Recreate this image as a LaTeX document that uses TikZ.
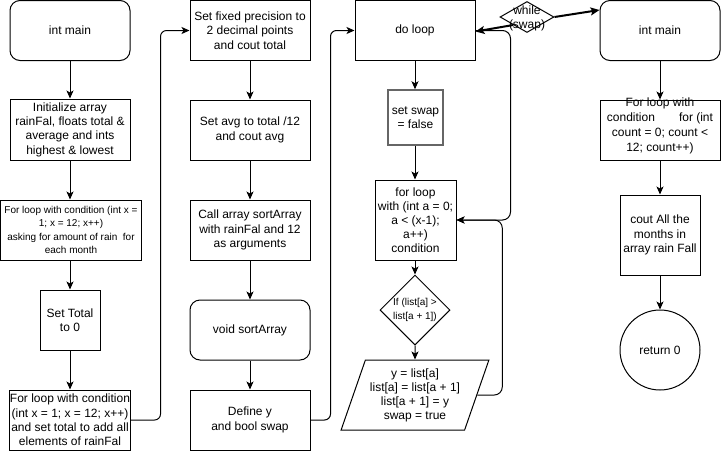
\documentclass[tikz,border=0pt]{standalone}
\usepackage{fontspec}
\setmainfont{Liberation Sans}
\usetikzlibrary{shapes.geometric,arrows.meta,calc}
\tikzset{
  every node/.style={font=\fontsize{12}{14.3}\selectfont, text=black},
  smalltxt/.style={font=\fontsize{10}{13.6}\selectfont},
  box/.style={draw, line width=1pt, rectangle, minimum width=120pt, minimum height=60pt, inner sep=0pt, align=center},
  rbox/.style={box, rounded corners=10pt},
  arr/.style={line width=1pt, -{Stealth[length=8pt,width=7pt,inset=2pt]}},
  thickarr/.style={line width=2pt, -{Stealth[length=9pt,width=8pt,inset=2pt]}},
  dia/.style={draw, line width=1pt, diamond, inner sep=0pt, aspect=1},
  para/.style={draw, line width=1pt, trapezium, trapezium left angle=67.5, trapezium right angle=112.5, trapezium stretches=true, minimum width=148pt, minimum height=70pt, inner sep=0pt, align=center},
}
\begin{document}
\begin{tikzpicture}[x=1pt,y=-1pt]
\useasboundingbox (0,0) rectangle (721,451);
% column 1
\node[rbox] (c1a) at (70,30.5) {int main};
\node[box, minimum height=61pt] (c1b) at (70,129.5) {Initialize array\\rainFal, floats total \&\\average and ints\\highest \& lowest};
\node[box, smalltxt, minimum width=141pt] (c1c) at (71,230) {For loop with condition (int x =\\1; x = 12; x++)\\asking for amount of rain\ \ for\\each month};
\node[box, minimum width=60pt] (c1d) at (70,320) {Set Total\\to 0};
\node[box] (c1e) at (70,420) {For loop with condition\\(int x = 1; x = 12; x++)\\and set total to add all\\elements of rainFal};
% column 2
\node[box] (c2a) at (250,30.5) {Set fixed precision to\\2 decimal points\\and cout total};
\node[box] (c2b) at (250,130) {Set avg to total /12\\and cout avg};
\node[box] (c2c) at (250,230) {Call array sortArray\\with rainFal and 12\\as arguments};
\node[rbox] (c2d) at (250,330) {void sortArray};
\node[box] (c2e) at (250,420) {Define y\\and bool swap};
% column 3
\node[box] (c3a) at (415,30.5) {do loop};
\node[box, minimum width=55pt, minimum height=55pt, draw={rgb,255:red,102;green,102;blue,102}, line width=1.5pt] (c3b) at (415.5,117.5) {set swap\\= false};
\node[box, minimum width=81pt, minimum height=80pt, font=\fontsize{12}{14}\selectfont] (c3c) at (415.5,220) {for loop\\with (int a = 0;\\a < (x-1);\\a++)\\condition};
\node[dia, smalltxt, minimum width=70pt, minimum height=70pt, align=center, font=\fontsize{10}{14}\selectfont] (c3d) at (415,310) {If (list[a] >\\list[a + 1])};
\node[para, font=\fontsize{12}{14}\selectfont] (c3e) at (415,395) {y = list[a]\\list[a] = list[a + 1]\\list[a + 1] = y\\swap = true};
\node[dia, minimum width=54pt, minimum height=31pt, aspect=1.74] (wd) at (527,17) {};
\node[align=center, font=\fontsize{12}{14}\selectfont] (wdt) at (527,18) {while\\(swap)};
% column 4
\node[rbox] (c4a) at (660,30.5) {int main};
\node[box] (c4b) at (660,130) {};
\node[align=center, inner sep=0pt, font=\fontsize{12}{15}\selectfont] (c4bt) at (660,125.5) {For loop with\\condition\hspace{2em}for (int\\count = 0; count <\\12; count++)};
\node[box, minimum width=80pt, minimum height=80pt] (c4c) at (660,235) {cout All the\\months in\\array rain Fall};
\node[draw, line width=1pt, circle, minimum size=80pt, inner sep=0pt] (c4d) at (660,350) {return 0};
% connectors column 1
\draw[arr] (c1a.south) -- (c1b.north);
\draw[arr] (c1b.south) -- (c1b.south |- c1c.north);
\draw[arr] (c1b.south |- c1c.south) -- (c1d.north);
\draw[arr] (c1d.south) -- (c1e.north);
\draw[arr, rounded corners=6pt] (c1e.east) -- ++(30,0) |- (c2a.west);
% column 2
\draw[arr] (c2a.south) -- (c2b.north);
\draw[arr] (c2b.south) -- (c2c.north);
\draw[arr] (c2c.south) -- (c2d.north);
\draw[arr] (c2d.south) -- (c2e.north);
\draw[arr, rounded corners=6pt] (c2e.east) -- ++(20,0) |- (c3a.west);
% column 3
\draw[arr] (c3a.south) -- (c3a.south |- c3b.north);
\draw[arr] (c3a.south |- c3b.south) -- (c3a.south |- c3c.north);
\draw[arr] (c3a.south |- c3c.south) -- (c3d.north);
\draw[arr] (c3d.south) -- (c3e.north);
\draw[arr, rounded corners=8pt] (c3e.east) -- ++(25,0) |- (c3c.east);
\draw[arr, rounded corners=8pt] (c3a.east) -- ++(35,0) |- (c3c.east);
\draw[thickarr] (wd.south west) -- ($(c3a.east)+(0,1)$);
\draw[thickarr] (wd.east) -- ($(c4a.north west)+(0,10)$);
% column 4
\draw[arr] (c4a.south) -- (c4b.north);
\draw[arr] (c4b.south) -- (c4c.north);
\draw[arr] (c4c.south) -- (c4d.north);
\end{tikzpicture}
\end{document}
